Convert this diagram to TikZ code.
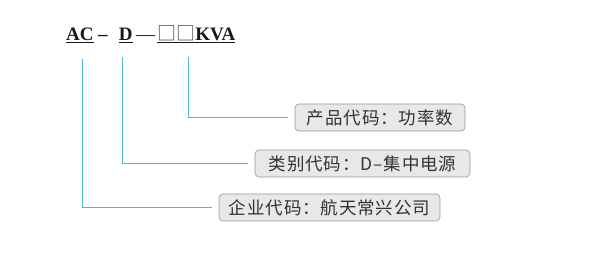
\documentclass[tikz,border=0pt]{standalone}
\usepackage{fontspec}
\setmainfont{Liberation Serif}
\newfontfamily\cjk[LetterSpace=5]{Noto Sans CJK SC}
\newfontfamily\cjksym{Noto Sans CJK SC}
\usetikzlibrary{positioning}
\definecolor{linkblue}{RGB}{80,185,218}
\definecolor{boxfill}{RGB}{232,232,232}
\definecolor{boxdraw}{RGB}{150,150,150}
\definecolor{boxtext}{RGB}{50,50,50}

\begin{document}
\begin{tikzpicture}[
		x=1pt, y=1pt,
		every node/.style={inner sep=0pt},
		code/.style={font=\bfseries\fontsize{19}{21}\selectfont, text=black!90},
		field/.style={draw=boxdraw, fill=boxfill, rounded corners=4pt, line width=0.6pt, minimum height=27pt, text=boxtext, font=\cjk\fontsize{17.5}{20}\selectfont},
		link/.style={draw=linkblue, line width=0.9pt, shorten >=7pt}
		]
		\useasboundingbox (0,0) rectangle (595,261);
		
		% --- Model code on top ---
		\node[code, anchor=base west] (ac) at (66,220) {\underline{AC}};
		\node[code, base right=4pt of ac] (dasha) {–};
		\node[code, base right=11pt of dasha] (d) {\underline{D}};
		\node[code, font=\mdseries\fontsize{19}{21}\selectfont, base right=3pt of d] (dashb) {—};
		\node[code, base right=2pt of dashb] (kva) {\underline{\smash{{\mdseries\color{black!75}\cjksym □□}}KVA}};
		
		% --- Explanation fields ---
		\node[field, minimum width=170pt] (power) at (380,143.5) {产品代码：功率数};
		\node[field, minimum width=215pt] (kind) at (362.5,97.5) {类别代码：D–集中电源};
		\node[field, minimum width=221pt] (corp) at (329.5,53.5) {企业代码：航天常兴公司};
		
		% --- Leader lines ---
		\coordinate (acfoot) at (82,202);
		\coordinate (dfoot) at (122,204);
		\coordinate (kvafoot) at (188,204);
		\draw[link] (acfoot) |- (corp.west);
		\draw[link] (dfoot) |- (kind.west);
		\draw[link] (kvafoot) |- (power.west);
	\end{tikzpicture}
\end{document}
